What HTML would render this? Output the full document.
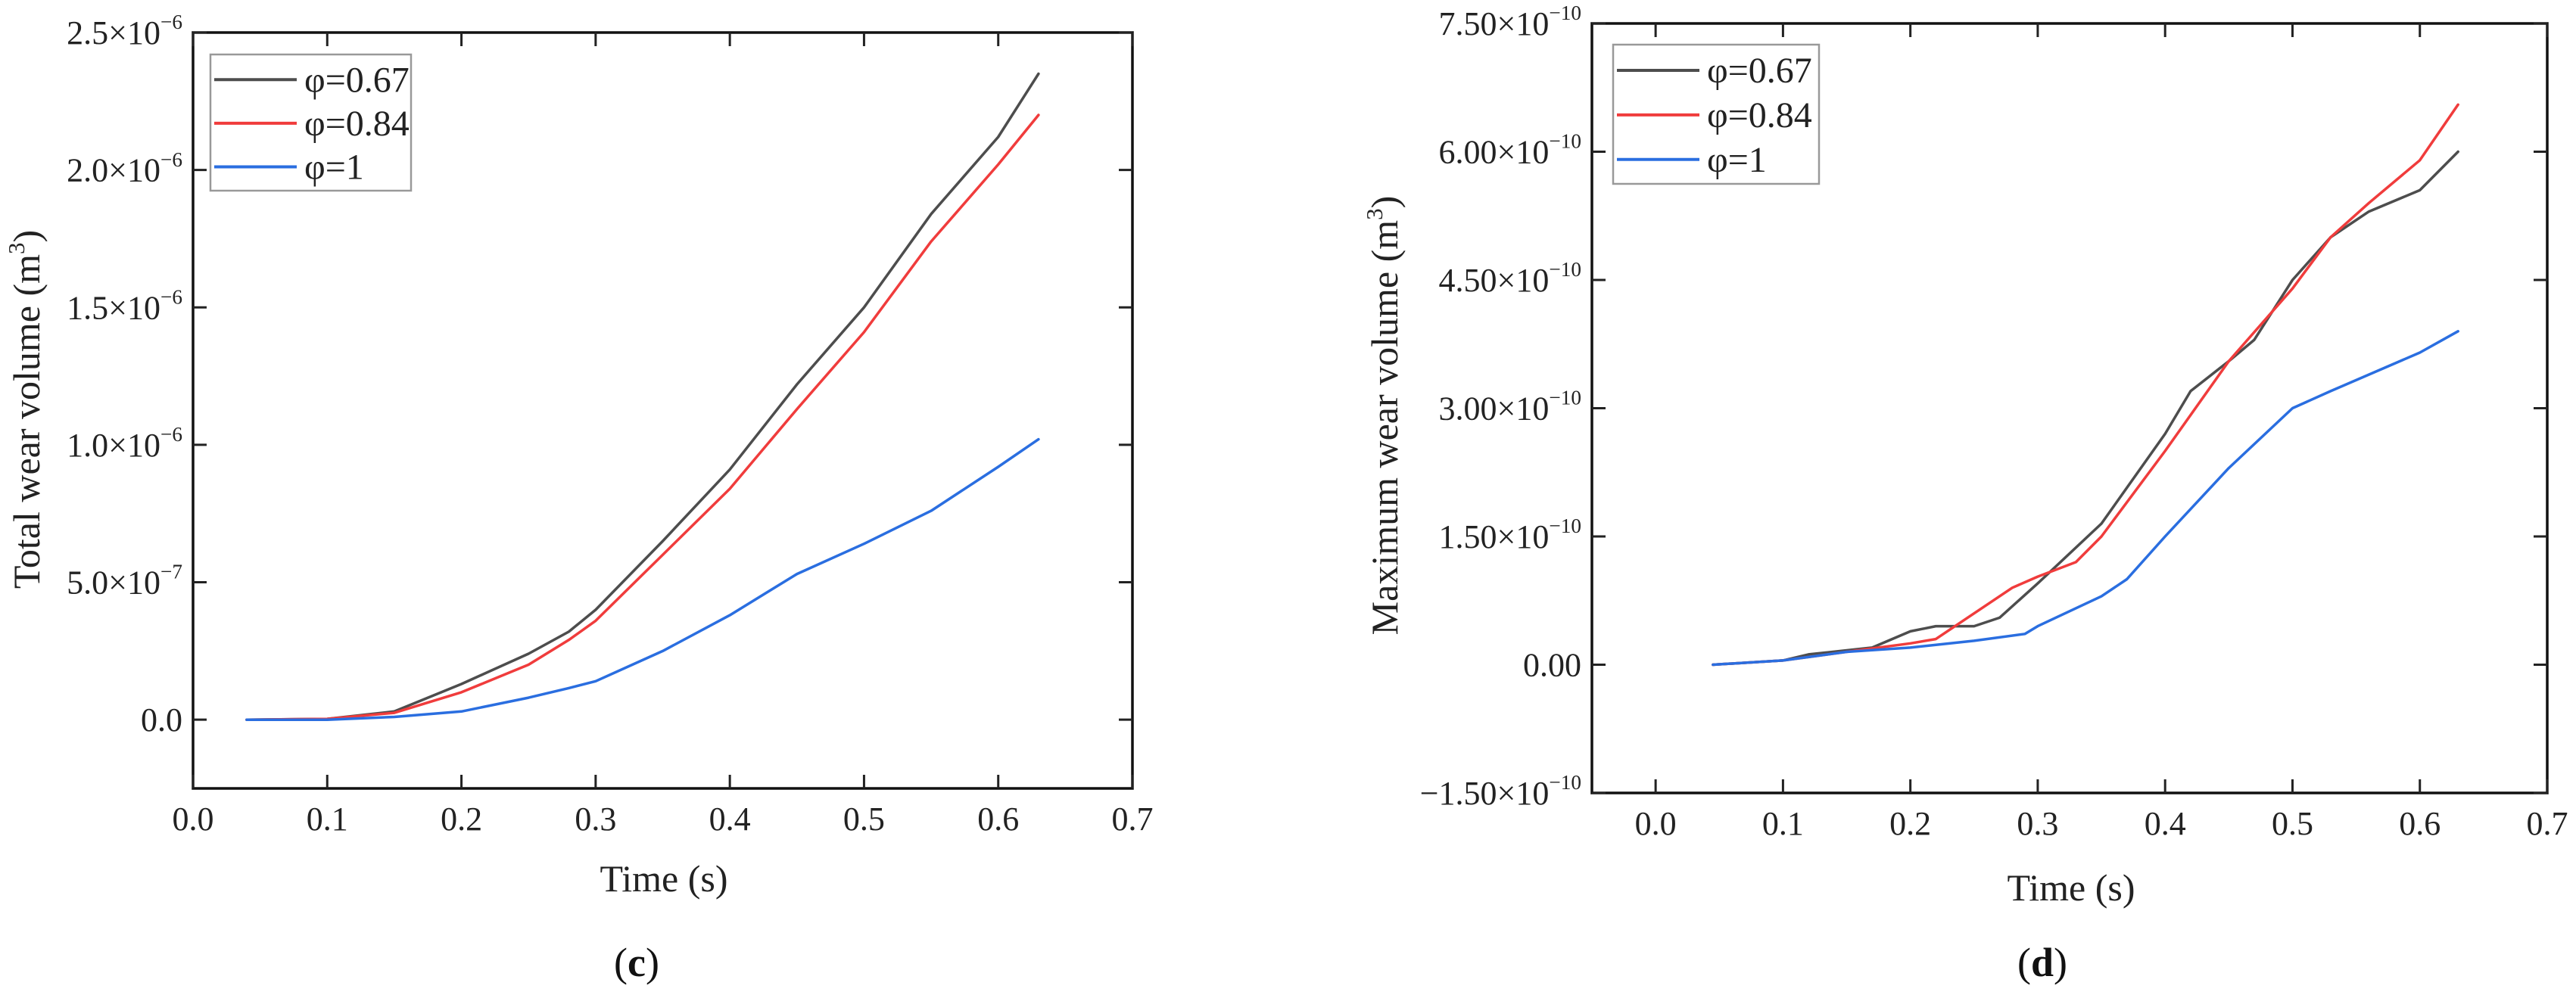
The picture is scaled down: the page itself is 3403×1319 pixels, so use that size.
<!DOCTYPE html>
<html><head><meta charset="utf-8"><style>
html,body{margin:0;padding:0;background:#fff;}
svg{display:block;font-family:"Liberation Serif",serif;}
</style></head><body>
<svg id="s" width="3403" height="1319" viewBox="0 0 3403 1319" xmlns="http://www.w3.org/2000/svg"></svg>
<script>
// Panel (c) data: time (s), total wear volume (×1e-6 m^3)
const cX = [0.04,0.1,0.15,0.2,0.25,0.28,0.3,0.35,0.4,0.45,0.5,0.55,0.6,0.63];
const cBlack = [0,0.003,0.03,0.13,0.24,0.32,0.40,0.65,0.91,1.22,1.50,1.84,2.12,2.35];
const cRed = [0,0.003,0.025,0.10,0.20,0.29,0.36,0.60,0.84,1.13,1.41,1.74,2.02,2.20];
const cBlue = [0,0,0.01,0.03,0.08,0.115,0.14,0.25,0.38,0.53,0.64,0.76,0.92,1.02];
const cYTicks = [0,0.5,1.0,1.5,2.0,2.5];
const cYLabels = ["0.0","5.0×10|−7","1.0×10|−6","1.5×10|−6","2.0×10|−6","2.5×10|−6"];
const xTicks = [0,0.1,0.2,0.3,0.4,0.5,0.6,0.7];
const xLabels = ["0.0","0.1","0.2","0.3","0.4","0.5","0.6","0.7"];
// Panel (d) data: time (s), max wear volume (×1e-10 m^3)
const dXBlack = [0.045,0.1,0.12,0.17,0.2,0.22,0.25,0.27,0.3,0.35,0.4,0.42,0.45,0.47,0.5,0.53,0.56,0.6,0.63];
const dBlack = [0,0.05,0.12,0.2,0.39,0.45,0.45,0.55,0.95,1.65,2.7,3.2,3.55,3.8,4.5,5.0,5.3,5.55,6.0];
const dXRed = [0.045,0.1,0.15,0.2,0.22,0.25,0.28,0.3,0.33,0.35,0.4,0.45,0.5,0.53,0.56,0.6,0.63];
const dRed = [0,0.05,0.15,0.25,0.3,0.6,0.9,1.03,1.2,1.5,2.5,3.55,4.4,5.0,5.4,5.9,6.55];
const dXBlue = [0.045,0.1,0.15,0.2,0.25,0.29,0.3,0.35,0.37,0.4,0.45,0.5,0.53,0.6,0.63];
const dBlue = [0,0.05,0.15,0.2,0.28,0.36,0.45,0.8,1.0,1.5,2.3,3.0,3.2,3.65,3.9];
const dYTicks = [-1.5,0,1.5,3.0,4.5,6.0,7.5];
const dYLabels = ["−1.50×10|−10","0.00","1.50×10|−10","3.00×10|−10","4.50×10|−10","6.00×10|−10","7.50×10|−10"];
const legendNames = ["φ=0.67","φ=0.84","φ=1"];
const colors = ["#4d4d4d","#f03c3c","#2a6ee0"];

const NS="http://www.w3.org/2000/svg";
const svg=document.getElementById('s');
function mk(tag,attrs,parent){const e=document.createElementNS(NS,tag);for(const k in attrs)e.setAttribute(k,attrs[k]);(parent||svg).appendChild(e);return e;}
function label(g,x,y,str,anchor,size){
  const t=mk('text',{x:x,y:y,'text-anchor':anchor,'font-size':size,fill:'#222'},g);
  const parts=str.split('|');
  t.appendChild(document.createTextNode(parts[0]));
  if(parts[1]){const ts=mk('tspan',{'font-size':size*0.62,dy:-size*0.45},t);ts.textContent=parts[1];}
  return t;
}
function panel(o){
  const g=mk('g',{});
  
  
  const sx=v=>o.x0+(v-o.xmin)/(o.xmax-o.xmin)*(o.x1-o.x0);
  const sy=v=>o.y1-(v-o.ymin)/(o.ymax-o.ymin)*(o.y1-o.y0);
  // series
  o.series.forEach((s,i)=>{
    const pts=s.x.map((xv,j)=>sx(xv).toFixed(1)+','+sy(s.y[j]).toFixed(1)).join(' ');
    const p=mk('polyline',{points:pts,fill:'none',stroke:colors[i],'stroke-width':3.5,'stroke-linejoin':'round','stroke-linecap':'round'},g);
    
    
  });
  // frame
  const fr=mk('rect',{x:o.x0,y:o.y0,width:o.x1-o.x0,height:o.y1-o.y0,fill:'none',stroke:'#111','stroke-width':3.5},g);
  
  
  const ax=mk('g',{},g);
  
  
  xTicks.forEach((v,i)=>{
    const X=sx(v);
    mk('line',{x1:X,y1:o.y1,x2:X,y2:o.y1-18,stroke:'#222','stroke-width':3},ax);
    mk('line',{x1:X,y1:o.y0,x2:X,y2:o.y0+18,stroke:'#222','stroke-width':3},ax);
    label(ax,X,o.y1+55,xLabels[i],'middle',44);
  });
  const ay=mk('g',{},g);
  
  
  o.yTicks.forEach((v,i)=>{
    const Y=sy(v);
    mk('line',{x1:o.x0,y1:Y,x2:o.x0+18,y2:Y,stroke:'#222','stroke-width':3},ay);
    mk('line',{x1:o.x1,y1:Y,x2:o.x1-18,y2:Y,stroke:'#222','stroke-width':3},ay);
    label(ay,o.x0-14,Y+15,o.yLabels[i],'end',44);
  });
  const xt=mk('text',{x:o.xtX,y:o.xtY,'text-anchor':'middle','font-size':50,fill:'#222'},g);
  xt.textContent='Time (s)';
  
  
  const yt=mk('text',{x:0,y:0,'text-anchor':'middle','font-size':50,fill:'#222',transform:`translate(${o.ytX},${o.ytY}) rotate(-90)`},g);
  yt.appendChild(document.createTextNode(o.ytitle+' (m'));
  const sup=mk('tspan',{'font-size':31,dy:-20},yt);sup.textContent='3';
  const cl=mk('tspan',{dy:20},yt);cl.textContent=')';
  
  
  // legend
  const lg=mk('g',{},g);
  
  
  mk('rect',{x:o.lx,y:o.ly,width:o.lw,height:o.lh,fill:'#fff',stroke:'#999','stroke-width':2.5},lg);
  legendNames.forEach((n,i)=>{
    const Y=o.ly+o.lh*(0.185+i*0.32);
    const e=mk('g',{},lg);
    
    
    mk('line',{x1:o.lx+5,y1:Y,x2:o.lx+114,y2:Y,stroke:colors[i],'stroke-width':4},e);
    const t=mk('text',{x:o.lx+124,y:Y+16,'font-size':48,fill:'#222'},e);
    t.textContent=n;
  });
  const pl=mk('text',{x:o.plX,y:1290,'text-anchor':'middle','font-size':54,fill:'#111'},g);
  pl.appendChild(document.createTextNode('('));
  const b=mk('tspan',{'font-weight':'bold'},pl);b.textContent=o.tag;
  pl.appendChild(document.createTextNode(')'));
  
  
}
panel({name:'chart-total-wear',x0:255,x1:1496,y0:43,y1:1042,xmin:0,xmax:0.7,ymin:-0.25,ymax:2.5,
  yTicks:cYTicks,yLabels:cYLabels,
  series:[{x:cX,y:cBlack},{x:cX,y:cRed},{x:cX,y:cBlue}],
  xtX:877,xtY:1178,ytX:52,ytY:541,ytitle:'Total wear volume',lx:278,ly:72,lw:265,lh:180,plX:841,tag:'c'});
panel({name:'chart-max-wear',x0:2103,x1:3365,y0:31,y1:1048,xmin:-0.05,xmax:0.7,ymin:-1.5,ymax:7.5,
  yTicks:dYTicks,yLabels:dYLabels,
  series:[{x:dXBlack,y:dBlack},{x:dXRed,y:dRed},{x:dXBlue,y:dBlue}],
  xtX:2736,xtY:1190,ytX:1846,ytY:549,ytitle:'Maximum wear volume',lx:2131,ly:59,lw:272,lh:184,plX:2698,tag:'d'});
</script>
</body></html>
